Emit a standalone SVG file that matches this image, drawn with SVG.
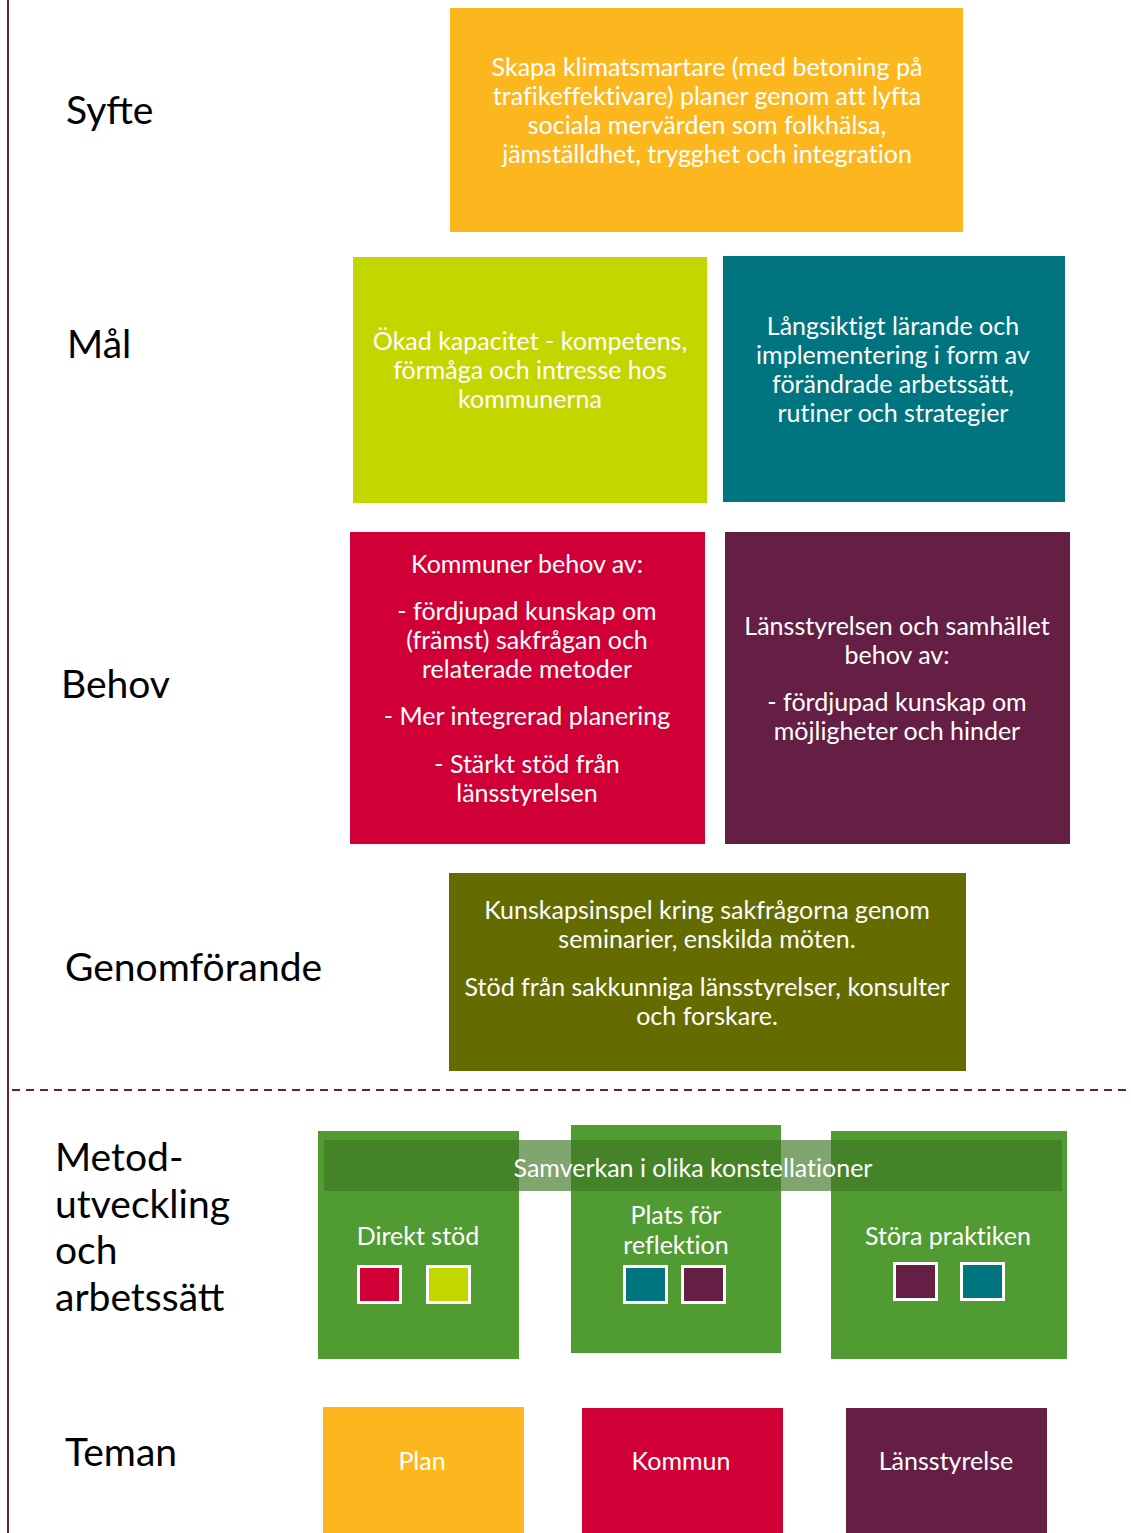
<svg xmlns="http://www.w3.org/2000/svg" width="1131" height="1533" viewBox="0 0 1131 1533">
<style>
.lbl{font-family:Lato,"Open Sans","Liberation Sans",sans-serif;font-size:39px;fill:#000}
.t{font-family:Lato,"Open Sans","Liberation Sans",sans-serif;font-size:25px;fill:#fff;text-anchor:middle;font-variant-ligatures:none}
.sq{stroke:#fff;stroke-width:3}
</style>
<rect width="1131" height="1533" fill="#fff"/>
<g id="frame">
<line x1="8" y1="0" x2="8" y2="1533" stroke="#662046" stroke-width="2"/>
<line x1="12" y1="1090" x2="1131" y2="1090" stroke="#662046" stroke-width="2" stroke-dasharray="8,6"/>
</g>
<g id="labels">
<text class="lbl" x="66" y="124">Syfte</text>
<text class="lbl" x="67" y="358">Mål</text>
<text class="lbl" x="61" y="698">Behov</text>
<text class="lbl" x="65" y="981">Genomförande</text>
<text class="lbl" x="55" y="1171">Metod-</text>
<text class="lbl" x="55" y="1218">utveckling</text>
<text class="lbl" x="55" y="1264">och</text>
<text class="lbl" x="55" y="1311">arbetssätt</text>
<text class="lbl" x="65" y="1466">Teman</text>
</g>
<g id="syfte">
<rect x="450" y="8" width="513" height="224" fill="#FDB71E"/>
<text class="t" x="707" y="76">Skapa klimatsmartare (med betoning på</text>
<text class="t" x="707" y="105">trafikeffektivare) planer genom att lyfta</text>
<text class="t" x="707" y="134">sociala mervärden som folkhälsa,</text>
<text class="t" x="707" y="163">jämställdhet, trygghet och integration</text>
</g>
<g id="mal1">
<rect x="353" y="257" width="354" height="246" fill="#C4D600"/>
<text class="t" x="530" y="350">Ökad kapacitet - kompetens,</text>
<text class="t" x="530" y="379">förmåga och intresse hos</text>
<text class="t" x="530" y="408">kommunerna</text>
</g>
<g id="mal2">
<rect x="723" y="256" width="342" height="246" fill="#00757F"/>
<text class="t" x="893" y="335">Långsiktigt lärande och</text>
<text class="t" x="893" y="364">implementering i form av</text>
<text class="t" x="893" y="393">förändrade arbetssätt,</text>
<text class="t" x="893" y="422">rutiner och strategier</text>
</g>
<g id="behov1">
<rect x="350" y="532" width="355" height="312" fill="#D00036"/>
<text class="t" x="527" y="573">Kommuner behov av:</text>
<text class="t" x="527" y="620">- fördjupad kunskap om</text>
<text class="t" x="527" y="649">(främst) sakfrågan och</text>
<text class="t" x="527" y="678">relaterade metoder</text>
<text class="t" x="527" y="725">- Mer integrerad planering</text>
<text class="t" x="527" y="773">- Stärkt stöd från</text>
<text class="t" x="527" y="802">länsstyrelsen</text>
</g>
<g id="behov2">
<rect x="725" y="532" width="345" height="312" fill="#651F45"/>
<text class="t" x="897" y="635">Länsstyrelsen och samhället</text>
<text class="t" x="897" y="664">behov av:</text>
<text class="t" x="897" y="711">- fördjupad kunskap om</text>
<text class="t" x="897" y="740">möjligheter och hinder</text>
</g>
<g id="genomforande">
<rect x="449" y="873" width="517" height="198" fill="#646C00"/>
<text class="t" x="707" y="919">Kunskapsinspel kring sakfrågorna genom</text>
<text class="t" x="707" y="948">seminarier, enskilda möten.</text>
<text class="t" x="707" y="996">Stöd från sakkunniga länsstyrelser, konsulter</text>
<text class="t" x="707" y="1025">och forskare.</text>
</g>
<g id="metod1">
<rect x="318" y="1131" width="201" height="228" fill="#519C32"/>
</g>
<g id="metod2">
<rect x="571" y="1125" width="210" height="228" fill="#519C32"/>
</g>
<g id="metod3">
<rect x="831" y="1131" width="236" height="228" fill="#519C32"/>
</g>
<g id="samverkan">
<rect x="324" y="1140" width="738" height="51" fill="rgb(61,117,34)" fill-opacity="0.655"/>
<text class="t" x="693" y="1177">Samverkan i olika konstellationer</text>
</g>
<g id="metod-labels">
<text class="t" x="418" y="1245">Direkt stöd</text>
<rect class="sq" x="358.5" y="1266.5" width="42" height="36" fill="#D00036"/>
<rect class="sq" x="427.5" y="1266.5" width="42" height="36" fill="#C4D600"/>
<text class="t" x="676" y="1224">Plats för</text>
<text class="t" x="676" y="1254">reflektion</text>
<rect class="sq" x="624.5" y="1266.5" width="42" height="36" fill="#00757F"/>
<rect class="sq" x="682.5" y="1266.5" width="42" height="36" fill="#651F45"/>
<text class="t" x="948" y="1245">Störa praktiken</text>
<rect class="sq" x="894.5" y="1263.5" width="42" height="36" fill="#651F45"/>
<rect class="sq" x="961.5" y="1263.5" width="42" height="36" fill="#00757F"/>
</g>
<g id="plan">
<rect x="323" y="1407" width="201" height="126" fill="#FDB71E"/>
<text class="t" x="422" y="1470">Plan</text>
</g>
<g id="kommun">
<rect x="582" y="1408" width="201" height="125" fill="#D00036"/>
<text class="t" x="681" y="1470">Kommun</text>
</g>
<g id="lansstyrelse">
<rect x="846" y="1408" width="201" height="125" fill="#651F45"/>
<text class="t" x="946" y="1470">Länsstyrelse</text>
</g>
</svg>
